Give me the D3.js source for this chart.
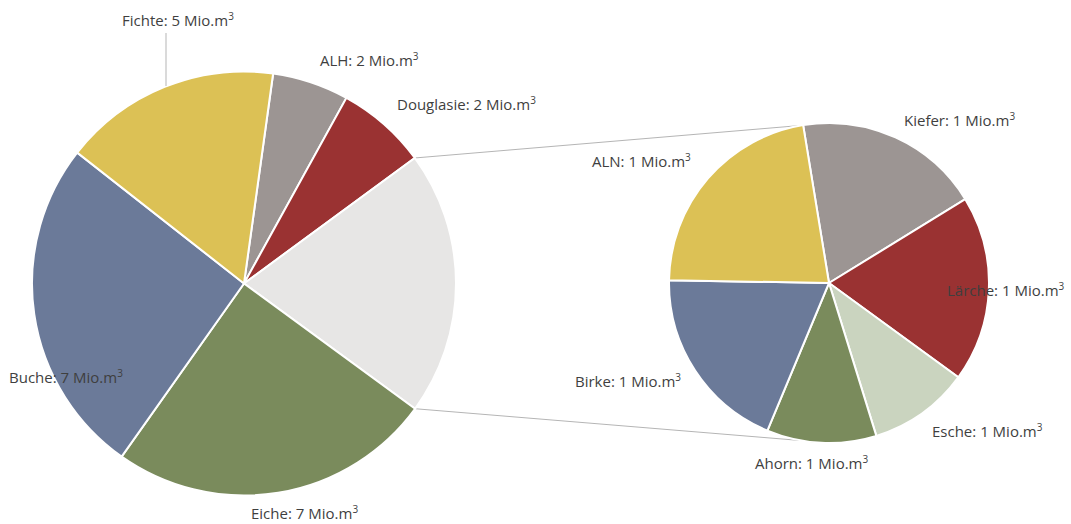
<!DOCTYPE html>
<html>
<head>
<meta charset="utf-8">
<script src="https://cdn.jsdelivr.net/npm/d3@7"></script>
<style>
  body { margin: 0; background: #fff; }
  text { font-family: "Open Sans", Roboto, sans-serif; font-size: 15px; fill: #3f3f3f; }
</style>
</head>
<body>
<div id="chart"></div>
<script>
// main pie (Mio. m3), "Sonstige" is split into the second pie
var mainNames  = ["ALH", "Douglasie", "Sonstige", "Eiche", "Buche", "Fichte"];
var mainValues = [1.65, 1.95, 5.7, 7.0, 7.3, 4.7];
var mainLabels = ["2", "2", "", "7", "7", "5"];
var mainColors = ["#9c9593", "#9a3232", "#e7e6e5", "#7a8b5c", "#6b7a99", "#dcc155"];

var subNames  = ["Kiefer", "Lärche", "Esche", "Ahorn", "Birke", "ALN"];
var subValues = [1.07, 1.07, 0.58, 0.63, 1.08, 1.26];
var subLabels = ["1", "1", "1", "1", "1", "1"];
var subColors = ["#9c9593", "#9a3232", "#cad4bf", "#7a8b5c", "#6b7a99", "#dcc155"];

var width = 1071, height = 524;
var deg = Math.PI / 180;

// label anchor points (text start, baseline)
var mainLabelPos = {
  "Fichte": [122, 26], "ALH": [320, 66], "Douglasie": [397, 110],
  "Buche": [9, 383], "Eiche": [251, 519]
};
var subLabelPos = {
  "ALN": [592, 167], "Kiefer": [904, 126], "Lärche": [947, 296],
  "Birke": [575, 387], "Ahorn": [755, 469], "Esche": [932, 437]
};

var svg = d3.select("#chart").append("svg")
    .attr("width", width)
    .attr("height", height);

var mainC = [244, 283.5], mainR = 212;
var subC = [829, 283], subR = 160;

var mainPie = d3.pie().sort(null).value(function(d) { return d; })
    .startAngle(7.9 * deg).endAngle(367.9 * deg);
var subPie = d3.pie().sort(null).value(function(d) { return d; })
    .startAngle(-9.3 * deg).endAngle(350.7 * deg);

var mainArc = d3.arc().innerRadius(0).outerRadius(mainR);
var subArc = d3.arc().innerRadius(0).outerRadius(subR);

var mainArcs = mainPie(mainValues);
var subArcs = subPie(subValues);

// connector lines from "Sonstige" slice to second pie
var other = mainArcs[2];
function pt(c, r, a) { return [c[0] + r * Math.sin(a), c[1] - r * Math.cos(a)]; }
var p1 = pt(mainC, mainR, other.startAngle), p2 = pt(subC, subR, -10 * deg);
var p3 = pt(mainC, mainR, other.endAngle), p4 = pt(subC, subR, 190 * deg);
svg.append("g").selectAll("line")
    .data([[p1, p2], [p3, p4]])
    .enter().append("line")
    .attr("x1", function(d) { return d[0][0]; })
    .attr("y1", function(d) { return d[0][1]; })
    .attr("x2", function(d) { return d[1][0]; })
    .attr("y2", function(d) { return d[1][1]; })
    .attr("stroke", "#b5b5b5").attr("stroke-width", 1);

var gMain = svg.append("g").attr("transform", "translate(" + mainC + ")");
gMain.selectAll("path").data(mainArcs).enter().append("path")
    .attr("d", mainArc)
    .attr("fill", function(d, i) { return mainColors[i]; })
    .attr("stroke", "#fff").attr("stroke-width", 2);

var gSub = svg.append("g").attr("transform", "translate(" + subC + ")");
gSub.selectAll("path").data(subArcs).enter().append("path")
    .attr("d", subArc)
    .attr("fill", function(d, i) { return subColors[i]; })
    .attr("stroke", "#fff").attr("stroke-width", 2);

// leader line for Fichte
svg.append("line")
    .attr("x1", 166).attr("y1", 33).attr("x2", 166).attr("y2", 86)
    .attr("stroke", "#b5b5b5").attr("stroke-width", 1);

function addLabel(name, val, pos) {
  var t = svg.append("text").attr("x", pos[0]).attr("y", pos[1]);
  t.append("tspan").text(name + ": " + val + " Mio.m");
  t.append("tspan").attr("dy", -6).style("font-size", "10px").text("3");
}
mainNames.forEach(function(n, i) {
  if (mainLabelPos[n]) addLabel(n, mainLabels[i], mainLabelPos[n]);
});
subNames.forEach(function(n, i) {
  addLabel(n, subLabels[i], subLabelPos[n]);
});
</script>
</body>
</html>
